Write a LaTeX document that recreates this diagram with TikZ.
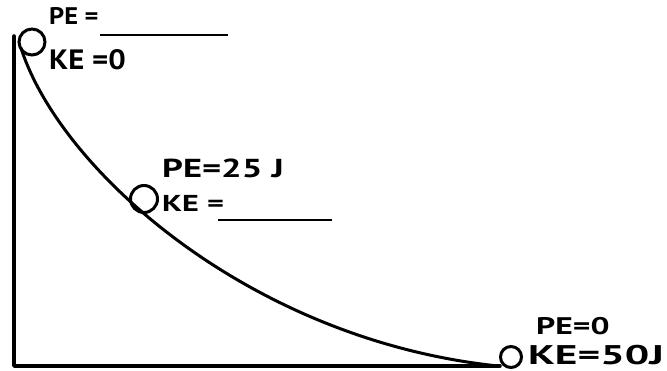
\documentclass[tikz,border=0pt]{standalone}
\usepackage{fontspec}
\setmainfont{PT Sans}
\newfontfamily\hwA{PT Sans}[UprightFont={* Bold},FakeStretch=1.1]
\newfontfamily\hwB{PT Sans}[UprightFont={* Bold},FakeStretch=1.4]
\newfontfamily\hwC{PT Sans}[UprightFont={* Bold},FakeStretch=1.6]
\begin{document}
\begin{tikzpicture}[x=1pt,y=-1pt,
  track/.style={line width=3.5pt,line cap=round,line join=round},
  ramp/.style={line width=3pt,line cap=round},
  ball/.style={circle,draw,line width=3pt,inner sep=0pt},
  lbl/.style={anchor=base west,inner sep=0pt,text depth=0pt},
  blank/.style={line width=2.5pt}]
\useasboundingbox (0,0) rectangle (667,371);
% frame
\coordinate (top) at (14,36);
\coordinate (corner) at (14,366);
\coordinate (end) at (500,366);
\draw[track] (top) -- (corner) -- (end);
% ramp
\coordinate (rs) at (21,48);
\coordinate (re) at (498,366);
\draw[ramp] (rs) .. controls (60,170) and (250,340) .. (re);
% balls
\node[ball,minimum size=26pt] (b1) at (32,42) {};
\node[ball,minimum size=27pt] (b2) at (144,199) {};
\node[ball,minimum size=21pt] (b3) at (511,357) {};
% labels ball 1
\node[lbl,font=\hwA\fontsize{24}{24}\selectfont] (pe1) at (49,25) {PE =};
\node[lbl,font=\hwA\fontsize{28}{28}\selectfont] (ke1) at (49,70) {KE =0};
\coordinate (u1a) at (100,35); \coordinate (u1b) at (228,35);
\draw[blank] (u1a) -- (u1b);
% labels ball 2
\node[lbl,font=\hwB\fontsize{26}{26}\selectfont] (pe2) at (162,178) {PE=25 J};
\node[lbl,font=\hwB\fontsize{23}{23}\selectfont] (ke2) at (162,212) {KE =};
\coordinate (u2a) at (218,220); \coordinate (u2b) at (332,220);
\draw[blank] (u2a) -- (u2b);
% labels ball 3
\node[lbl,font=\hwB\fontsize{24}{24}\selectfont] (pe3) at (536,335) {PE=0};
\node[lbl,font=\hwC\fontsize{27}{27}\selectfont] (ke3) at (528,365) {KE=50J};
\end{tikzpicture}
\end{document}
